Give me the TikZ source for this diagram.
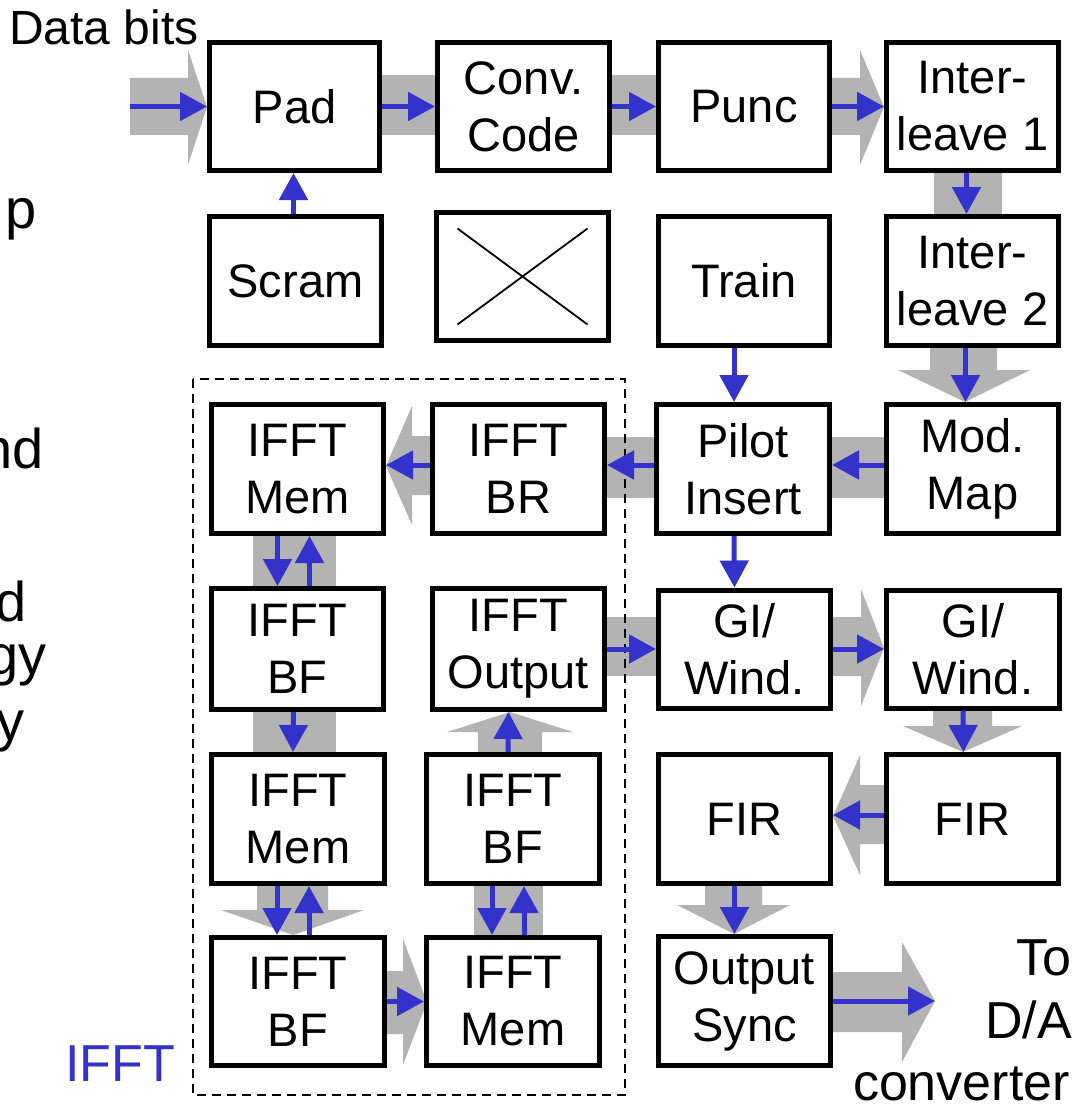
\documentclass[tikz,border=0pt]{standalone}
\usepackage{fontspec}
\setmainfont{Liberation Sans}
\usetikzlibrary{arrows.meta}
\definecolor{gry}{RGB}{179,179,179}
\definecolor{blu}{RGB}{51,51,204}
\begin{document}
\begin{tikzpicture}[x=1pt,y=-1pt,
  blk/.style={draw=black,line width=5pt,fill=white,inner sep=0pt,align=center,
    font=\fontsize{47}{57}\selectfont,minimum width=171,minimum height=129},
  flow/.style={draw=blu,line width=5pt,-{Triangle[length=27pt,width=28pt]}},
  fat/.style={fill=gry},
  frag/.style={anchor=base east,inner sep=0pt,font=\fontsize{56}{60}\selectfont},
  big/.style={inner sep=0pt,font=\fontsize{52}{62}\selectfont},
]
\useasboundingbox (0,0) rectangle (1074,1105);
% ---- gray fat arrows (background) ----
\fill[fat] (130,78) -- (188,78) -- (188,50) -- (207,107) -- (188,165) -- (188,135) -- (130,135) -- cycle;
\fill[fat] (382,75) rectangle (435,135);
\fill[fat] (612,75) rectangle (656,135);
\fill[fat] (832,78) -- (860,78) -- (860,50) -- (884,107) -- (860,165) -- (860,135) -- (832,135) -- cycle;
\fill[fat] (934,173) rectangle (1002,214);
\fill[fat] (930,348) -- (997,348) -- (997,370) -- (1030,370) -- (965,402) -- (898,370) -- (930,370) -- cycle;
\fill[fat] (832,437) rectangle (884,498);
\fill[fat] (607,437) rectangle (654,498);
\fill[fat] (430,436) -- (412,436) -- (412,406) -- (386,466) -- (412,525) -- (412,495) -- (430,495) -- cycle;
\fill[fat] (253,536) rectangle (336,587);
\fill[fat] (253,712) rectangle (336,752);
\fill[fat] (257,886) -- (328,886) -- (328,910) -- (364,910) -- (293,935) -- (221,910) -- (257,910) -- cycle;
\fill[fat] (387,971) -- (403,971) -- (403,939) -- (427,1002) -- (403,1065) -- (403,1034) -- (387,1034) -- cycle;
\fill[fat] (474,886) rectangle (543,935);
\fill[fat] (478,752) -- (478,732) -- (447,732) -- (510,712) -- (573,732) -- (542,732) -- (542,752) -- cycle;
\fill[fat] (607,617) rectangle (656,676);
\fill[fat] (833,617) -- (861,617) -- (861,589) -- (884,648) -- (861,706) -- (861,676) -- (833,676) -- cycle;
\fill[fat] (933,711) -- (992,711) -- (992,726) -- (1022,726) -- (963,752) -- (903,726) -- (933,726) -- cycle;
\fill[fat] (884,785) -- (860,785) -- (860,755) -- (833,816) -- (860,875) -- (860,844) -- (884,844) -- cycle;
\fill[fat] (705,886) -- (762,886) -- (762,905) -- (790,905) -- (734,934) -- (677,905) -- (705,905) -- cycle;
\fill[fat] (833,972) -- (902,972) -- (902,942) -- (935,1001) -- (902,1062) -- (902,1032) -- (833,1032) -- cycle;
% ---- dashed IFFT group ----
\draw[line width=2pt,dash pattern=on 9pt off 6pt] (193,379) rectangle (625,1095);
% ---- blocks ----
\node[blk,minimum width=170,minimum height=128] (pad) at (294.5,106.5) {Pad};
\node[blk,minimum width=172,minimum height=128] (conv) at (523.5,106.5) {Conv.\\Code};
\node[blk,minimum height=128] (punc) at (744,106.5) {Punc};
\node[blk,minimum width=172,minimum height=128] (il1) at (972.5,106.5) {Inter-\\leave 1};
\node[blk,minimum width=172] (scram) at (295.5,281) {Scram};
\node[blk,minimum width=172,minimum height=128] (xbox) at (522.5,276.5) {};
\node[blk] (train) at (744,281) {Train};
\node[blk,minimum width=172] (il2) at (972.5,281) {Inter-\\leave 2};
\node[blk,minimum width=172] (mem1) at (297.5,469) {IFFT\\Mem};
\node[blk,minimum width=172] (br) at (518.5,469) {IFFT\\BR};
\node[blk,minimum width=173] (pilot) at (743,469) {Pilot\\Insert};
\node[blk,minimum width=172] (mod) at (972.5,469) {Mod.\\Map};
\node[blk,minimum width=172,minimum height=121] (bf1) at (297.5,649) {IFFT\\BF};
\node[blk,minimum width=172,minimum height=121] (out) at (518.5,649) {IFFT\\Output};
\node[blk,minimum width=172,minimum height=118] (gi1) at (744.5,649) {GI/\\Wind.};
\node[blk,minimum width=173,minimum height=118] (gi2) at (973,649) {GI/\\Wind.};
\node[blk,minimum width=173] (mem2) at (298,819) {IFFT\\Mem};
\node[blk,minimum width=173] (bf3) at (513,819) {IFFT\\BF};
\node[blk,minimum width=172] (fir1) at (744.5,819) {FIR};
\node[blk,minimum width=172] (fir2) at (972.5,819) {FIR};
\node[blk,minimum width=173,minimum height=128] (bf2) at (298,1001.5) {IFFT\\BF};
\node[blk,minimum width=173,minimum height=128] (mem3) at (513,1001.5) {IFFT\\Mem};
\node[blk,minimum width=172] (sync) at (744.5,1001) {Output\\Sync};
% cross in the empty block
\draw[line width=1.8pt] ([shift={(-65,48)}]xbox.center) -- ([shift={(65,-48)}]xbox.center);
\draw[line width=1.8pt] ([shift={(65,48)}]xbox.center) -- ([shift={(-65,-48)}]xbox.center);
% ---- blue data-flow arrows ----
\coordinate (inp) at (130,106.5);
\coordinate (dac) at (935,1001);
\draw[flow] (inp) -- (pad.west);
\draw[flow] (pad.east) -- (conv.west);
\draw[flow] (conv.east) -- (punc.west);
\draw[flow] (punc.east) -- (il1.west);
\draw[flow] ([xshift=-6pt]il1.south) -- ([xshift=-6pt]il2.north);
\draw[flow] ([xshift=-2pt]scram.north) -- ([xshift=-1pt]pad.south);
\draw[flow] ([xshift=-10pt]train.south) -- ([xshift=-9pt]pilot.north);
\draw[flow] ([xshift=-7pt]il2.south) -- ([xshift=-7pt]mod.north);
\draw[flow] ([yshift=4pt]mod.west) -- ([yshift=4pt]pilot.east);
\draw[flow] ([yshift=4pt]pilot.west) -- ([yshift=4pt]br.east);
\draw[flow] ([yshift=4pt]br.west) -- ([yshift=4pt]mem1.east);
\draw[flow] ([xshift=-9pt]pilot.south) -- ([xshift=-10pt]gi1.north);
\draw[flow] ([xshift=-20pt]mem1.south) -- ([xshift=-20pt]bf1.north);
\draw[flow] ([xshift=12pt]bf1.north) -- ([xshift=12pt]mem1.south);
\draw[flow] ([xshift=-4pt]bf1.south) -- ([xshift=-5pt]mem2.north);
\draw[flow] ([xshift=-21pt]mem2.south) -- ([xshift=-21pt]bf2.north);
\draw[flow] ([xshift=11pt]bf2.north) -- ([xshift=11pt]mem2.south);
\draw[flow] (bf2.east) -- (mem3.west);
\draw[flow] ([xshift=-21pt]bf3.south) -- ([xshift=-21pt]mem3.north);
\draw[flow] ([xshift=11pt]mem3.north) -- ([xshift=11pt]bf3.south);
\draw[flow] ([xshift=-5pt]bf3.north) -- ([xshift=-10pt]out.south);
\draw[flow] (out.east) -- (gi1.west);
\draw[flow] (gi1.east) -- (gi2.west);
\draw[flow] ([xshift=-10pt]gi2.south) -- ([xshift=-9pt]fir2.north);
\draw[flow] ([yshift=4pt]fir2.west) -- ([yshift=4pt]fir1.east);
\draw[flow] ([xshift=-10pt]fir1.south) -- ([xshift=-10pt]sync.north);
\draw[flow] (sync.east) -- (dac);
% ---- labels ----
\node[anchor=base west,inner sep=0pt,font=\fontsize{48}{52}\selectfont] (dbits) at (9,45) {Data bits};
\node[big,anchor=base east] (to1) at (1072,975) {To};
\node[big,anchor=base east] (to2) at (1072,1038) {D/A};
\node[big,anchor=base east] (to3) at (1070,1100) {converter};
\node[big,anchor=base west,text=blu] (ifftlbl) at (65,1081) {IFFT};
\node[frag] (f1) at (37,228) {p};
\node[frag] (f2) at (44,468) {nd};
\node[frag] (f3) at (27,621) {d};
\node[frag] (f4) at (47,674) {gy};
\node[frag] (f5) at (25,740) {y};
\end{tikzpicture}
\end{document}
